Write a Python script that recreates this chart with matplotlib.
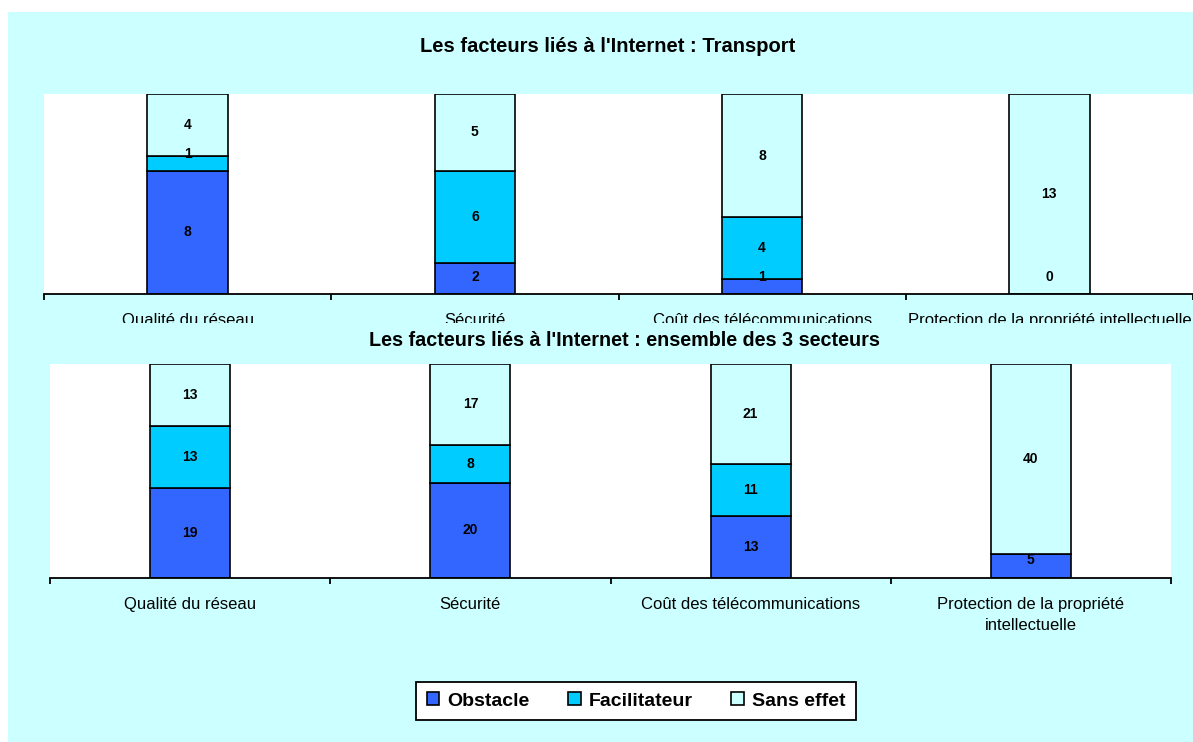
import numpy as np
import matplotlib.pyplot as plt
from matplotlib.patches import Rectangle, Patch

plt.rcParams['font.family'] = ['Liberation Sans', 'DejaVu Sans']

categories = ["Qualité du réseau", "Sécurité", "Coût des télécommunications",
              "Protection de la propriété intellectuelle"]
labels_bas = ["Qualité du réseau", "Sécurité", "Coût des télécommunications",
              "Protection de la propriété\nintellectuelle"]
series = ["Obstacle", "Facilitateur", "Sans effet"]

# Transport (nan = pas de valeur)
transport_obstacle = [8, 2, 1, 0]
transport_facilitateur = [1, 6, 4, np.nan]
transport_sans_effet = [4, 5, 8, 13]

# ensemble des 3 secteurs
ensemble_obstacle = [19, 20, 13, 5]
ensemble_facilitateur = [13, 8, 11, np.nan]
ensemble_sans_effet = [13, 17, 21, 40]

colors = ["#3366FF", "#00CCFF", "#CCFFFF"]
cyan = "#CCFFFF"

W, H = 1193, 742
fig = plt.figure(figsize=(W / 100, H / 100), dpi=100)
fig.patch.set_facecolor("white")
fig.patches.append(Rectangle((8 / W, 0), 1, 1 - 12 / H, transform=fig.transFigure,
                             facecolor=cyan, edgecolor="none", zorder=-1))


def draw(ax, data, ticklabels, bar_w, pad_lbl):
    x = np.arange(len(categories))
    total = np.nansum(np.array(data), axis=0).max()
    pad = 0.083 * total
    bottom = np.zeros(len(categories))
    for vals, col in zip(data, colors):
        v = np.nan_to_num(np.array(vals, dtype=float))
        ax.bar(x, v, bar_w, bottom=bottom, color=col, edgecolor="black",
               linewidth=1.2, zorder=2)
        for i, raw in enumerate(vals):
            if np.isnan(raw):
                continue
            y = max(bottom[i] + v[i] / 2, bottom[i] + pad)
            ax.text(x[i], y, "%d" % raw, ha="center", va="center",
                    fontsize=10, fontweight="bold", zorder=3)
        bottom += v
    ax.set_xlim(-0.5, len(categories) - 0.5)
    ax.set_ylim(0, total)
    ax.set_facecolor("white")
    for s in ["left", "right", "top"]:
        ax.spines[s].set_visible(False)
    ax.spines["bottom"].set_linewidth(1.3)
    ax.set_yticks([])
    ax.set_xticks(x)
    ax.set_xticklabels(ticklabels, fontsize=12, linespacing=1.55)
    ax.set_xticks(np.arange(-0.5, len(categories)), minor=True)
    ax.tick_params(axis="x", which="major", length=0, pad=pad_lbl)
    ax.tick_params(axis="x", which="minor", length=4, width=1.3, direction="out")


# graphique du haut : Transport
ax1 = fig.add_axes([44 / W, 1 - 294 / H, (1193 - 44) / W, 200 / H], zorder=0)
draw(ax1, [transport_obstacle, transport_facilitateur, transport_sans_effet],
     categories, 0.28, 13.5)
fig.text(608 / W, 1 - 46 / H, "Les facteurs liés à l'Internet : Transport",
         ha="center", va="center", fontsize=14.5, fontweight="bold")

# bande cyan qui coupe les libellés du haut
fig.patches.append(Rectangle((8 / W, 0.40), 1, 1 - 323 / H - 0.40,
                             transform=fig.transFigure, facecolor=cyan,
                             edgecolor="none", zorder=0.5))

# graphique du bas : ensemble des 3 secteurs
ax2 = fig.add_axes([50 / W, 1 - 578 / H, (1171 - 50) / W, 214 / H], zorder=1)
draw(ax2, [ensemble_obstacle, ensemble_facilitateur, ensemble_sans_effet],
     labels_bas, 0.286, 13.5)
fig.text(624 / W, 1 - 340 / H,
         "Les facteurs liés à l'Internet : ensemble des 3 secteurs",
         ha="center", va="center", fontsize=14.2, fontweight="bold", zorder=3)

handles = [Patch(facecolor=c, edgecolor="black", linewidth=1.2) for c in colors]
leg = fig.legend(handles, series, loc="center", bbox_to_anchor=(636 / W, 1 - 701 / H),
                 ncol=3, frameon=True, fancybox=False, edgecolor="black",
                 framealpha=1, prop={"size": 14, "weight": "bold"}, handlelength=0.65,
                 handleheight=0.65, handletextpad=0.4, columnspacing=2.0,
                 borderpad=0.55, borderaxespad=0)
leg.get_frame().set_linewidth(1.3)
leg.set_zorder(5)

fig.savefig("out.png", dpi=100, facecolor=fig.get_facecolor())
